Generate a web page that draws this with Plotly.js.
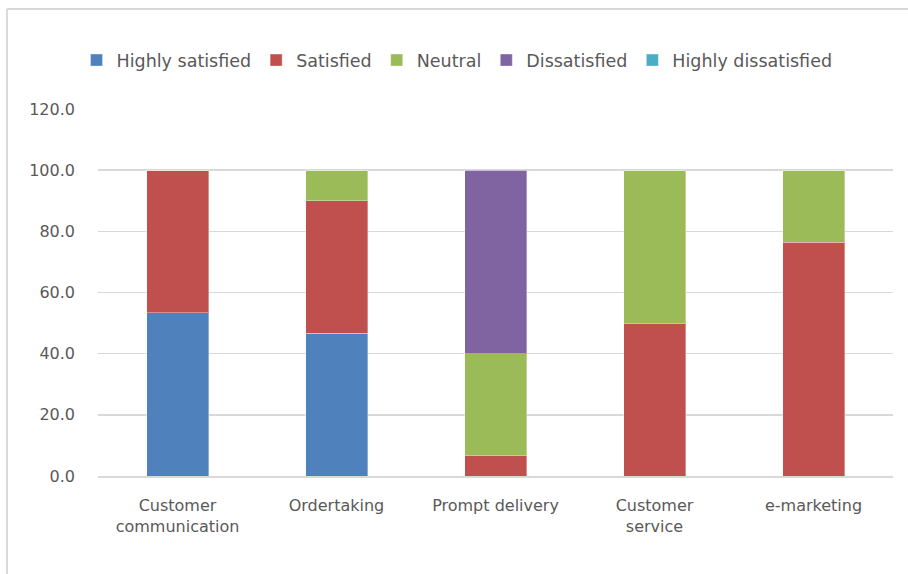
<!DOCTYPE html>
<html>
<head>
<meta charset="utf-8">
<script src="https://cdn.plot.ly/plotly-3.0.1.min.js"></script>
<style>
html,body{margin:0;padding:0;background:#fff;}
#chart{width:908px;height:574px;}
</style>
</head>
<body>
<div id="chart"></div>
<script>
const categories = ["Customer<br>communication", "Ordertaking", "Prompt delivery", "Customer<br>service", "e-marketing"];
const seriesNames = ["Highly satisfied", "Satisfied", "Neutral", "Dissatisfied", "Highly dissatisfied"];
const highlySatisfied = [53.3, 46.7, 0, 0, 0];
const satisfied = [46.7, 43.3, 6.7, 50.0, 76.5];
const neutral = [0, 10.0, 33.3, 50.0, 23.5];
const dissatisfied = [0, 0, 60.0, 0, 0];
const highlyDissatisfied = [0, 0, 0, 0, 0];
const yTicks = [0, 20, 40, 60, 80, 100, 120];

const colors = ["#4F81BD", "#C0504D", "#9BBB59", "#8064A2", "#4BACC6"];
const values = [highlySatisfied, satisfied, neutral, dissatisfied, highlyDissatisfied];

const traces = values.map((v, i) => ({
  type: "bar",
  name: seriesNames[i],
  x: categories,
  y: v,
  marker: {color: colors[i], line: {color: "rgba(255,255,255,0.35)", width: 1}},
  hoverinfo: "x+y+name"
}));

const fontFam = "'DejaVu Sans', sans-serif";
const layout = {
  width: 908, height: 574,
  barmode: "stack",
  bargap: 0.61,
  paper_bgcolor: "#fff",
  plot_bgcolor: "#fff",
  margin: {l: 98, r: 15, t: 109, b: 98},
  font: {family: fontFam, size: 16, color: "#595959"},
  showlegend: true,
  legend: {
    orientation: "h",
    x: -0.027, xanchor: "left",
    y: 1.133, yanchor: "middle",
    font: {family: fontFam, size: 17.5, color: "#595959"},
    itemwidth: 30,
    traceorder: "normal"
  },
  xaxis: {
    type: "category",
    showgrid: false,
    showline: true,
    linecolor: "#d9d9d9",
    linewidth: 1.5,
    ticks: "",
    tickfont: {family: fontFam, size: 16, color: "#595959"},
    ticklabelstandoff: 14
  },
  yaxis: {
    range: [0, 120],
    tickvals: yTicks,
    tickformat: ".1f",
    showgrid: true,
    gridcolor: "#d9d9d9",
    gridwidth: 1.5,
    zeroline: false,
    showline: false,
    ticks: "",
    tickfont: {family: fontFam, size: 16, color: "#595959"},
    ticklabelstandoff: 22
  },
  shapes: [
    {type: "line", xref: "paper", yref: "paper", x0: -0.1145, x1: 1.02, y0: 1.2725, y1: 1.2725, line: {color: "#d9d9d9", width: 2}},
    {type: "line", xref: "paper", yref: "paper", x0: -0.1145, x1: -0.1145, y0: 1.2725, y1: -0.27, line: {color: "#d9d9d9", width: 2}}
  ]
};

Plotly.newPlot("chart", traces, layout, {displayModeBar: false, staticPlot: true});
</script>
</body>
</html>
